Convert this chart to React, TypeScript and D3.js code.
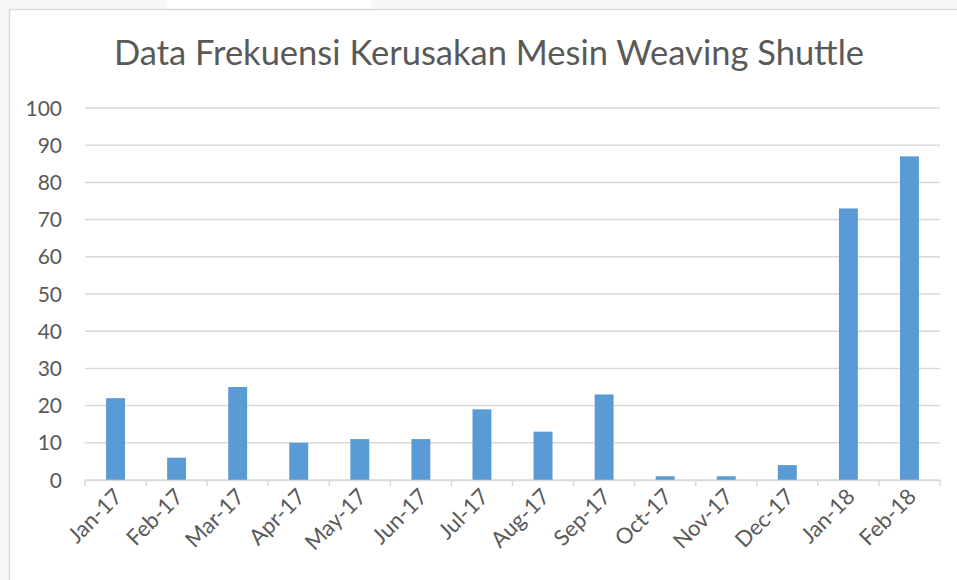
import React, { useEffect, useRef } from 'react';
import * as d3 from 'd3';

const months = ['Jan-17', 'Feb-17', 'Mar-17', 'Apr-17', 'May-17', 'Jun-17', 'Jul-17', 'Aug-17', 'Sep-17', 'Oct-17', 'Nov-17', 'Dec-17', 'Jan-18', 'Feb-18'];
const frekuensi = [22, 6, 25, 10, 11, 11, 19, 13, 23, 1, 1, 4, 73, 87];
const yTicks = [0, 10, 20, 30, 40, 50, 60, 70, 80, 90, 100];
const title = 'Data Frekuensi Kerusakan Mesin Weaving Shuttle';

const W = 957;
const H = 580;

const App = () => {
    const svgRef = useRef<SVGSVGElement>(null);

    useEffect(() => {
        const svg = d3.select(svgRef.current);
        svg.selectAll('*').remove();

        const font = 'Lato, "Open Sans", sans-serif';
        const textColor = '#595959';
        const gridColor = '#d9d9d9';

        // page behind the chart
        svg.append('rect').attr('width', W).attr('height', H).attr('fill', '#f8f8f8');
        svg.append('rect').attr('x', 167).attr('y', 0).attr('width', 204).attr('height', 10).attr('fill', '#ffffff');

        // chart area
        svg.append('rect')
            .attr('x', 9.5).attr('y', 9.5)
            .attr('width', W + 10).attr('height', H + 10)
            .attr('fill', '#ffffff')
            .attr('stroke', gridColor)
            .attr('stroke-width', 1.5);

        svg.append('text')
            .attr('x', 489).attr('y', 65)
            .attr('text-anchor', 'middle')
            .attr('font-family', font)
            .attr('font-size', 34.5)
            .attr('fill', textColor)
            .text(title);

        const margin = { left: 85, right: 17, top: 108, bottom: 100 };
        const x = d3.scaleBand()
            .domain(months)
            .range([margin.left, W - margin.right])
            .padding(0);
        const y = d3.scaleLinear()
            .domain([0, 100])
            .range([H - margin.bottom, margin.top]);

        // gridlines
        svg.append('g')
            .selectAll('line')
            .data(yTicks)
            .enter()
            .append('line')
            .attr('x1', margin.left).attr('x2', W - margin.right)
            .attr('y1', d => y(d)).attr('y2', d => y(d))
            .attr('stroke', gridColor)
            .attr('stroke-width', 1.5);

        // y labels
        svg.append('g')
            .selectAll('text')
            .data(yTicks)
            .enter()
            .append('text')
            .attr('x', 62)
            .attr('y', d => y(d) + 7.5)
            .attr('text-anchor', 'end')
            .attr('font-family', font)
            .attr('font-size', 21)
            .attr('fill', textColor)
            .text(d => d);

        // bars
        const barW = x.bandwidth() * 0.31;
        svg.append('g')
            .selectAll('rect')
            .data(frekuensi)
            .enter()
            .append('rect')
            .attr('x', (d, i) => x(months[i])! + (x.bandwidth() - barW) / 2)
            .attr('y', d => y(d))
            .attr('width', barW)
            .attr('height', d => y(0) - y(d))
            .attr('fill', '#5b9bd5');

        // x axis with tick marks between categories
        const xAxis = d3.axisBottom(x).tickSize(0).tickFormat(() => '');
        const axisG = svg.append('g')
            .attr('transform', `translate(0,${y(0)})`)
            .call(xAxis);
        axisG.select('.domain').attr('stroke', gridColor).attr('stroke-width', 1.5);

        const bounds = months.map(m => x(m)!).concat([W - margin.right]);
        svg.append('g')
            .selectAll('line')
            .data(bounds)
            .enter()
            .append('line')
            .attr('x1', d => d).attr('x2', d => d)
            .attr('y1', y(0)).attr('y2', y(0) + 6)
            .attr('stroke', gridColor)
            .attr('stroke-width', 1.5);

        svg.append('g')
            .selectAll('text')
            .data(months)
            .enter()
            .append('text')
            .attr('transform', d => `translate(${x(d)! + x.bandwidth() / 2 + 8},${y(0) + 18}) rotate(-45)`)
            .attr('text-anchor', 'end')
            .attr('font-family', font)
            .attr('font-size', 22)
            .attr('fill', textColor)
            .text(d => d);
    }, []);

    return (
        <div style={{ position: 'fixed', left: 0, top: 0 }}>
            <svg ref={svgRef} width={W} height={H} style={{ display: 'block' }}></svg>
        </div>
    );
};

export default App;
